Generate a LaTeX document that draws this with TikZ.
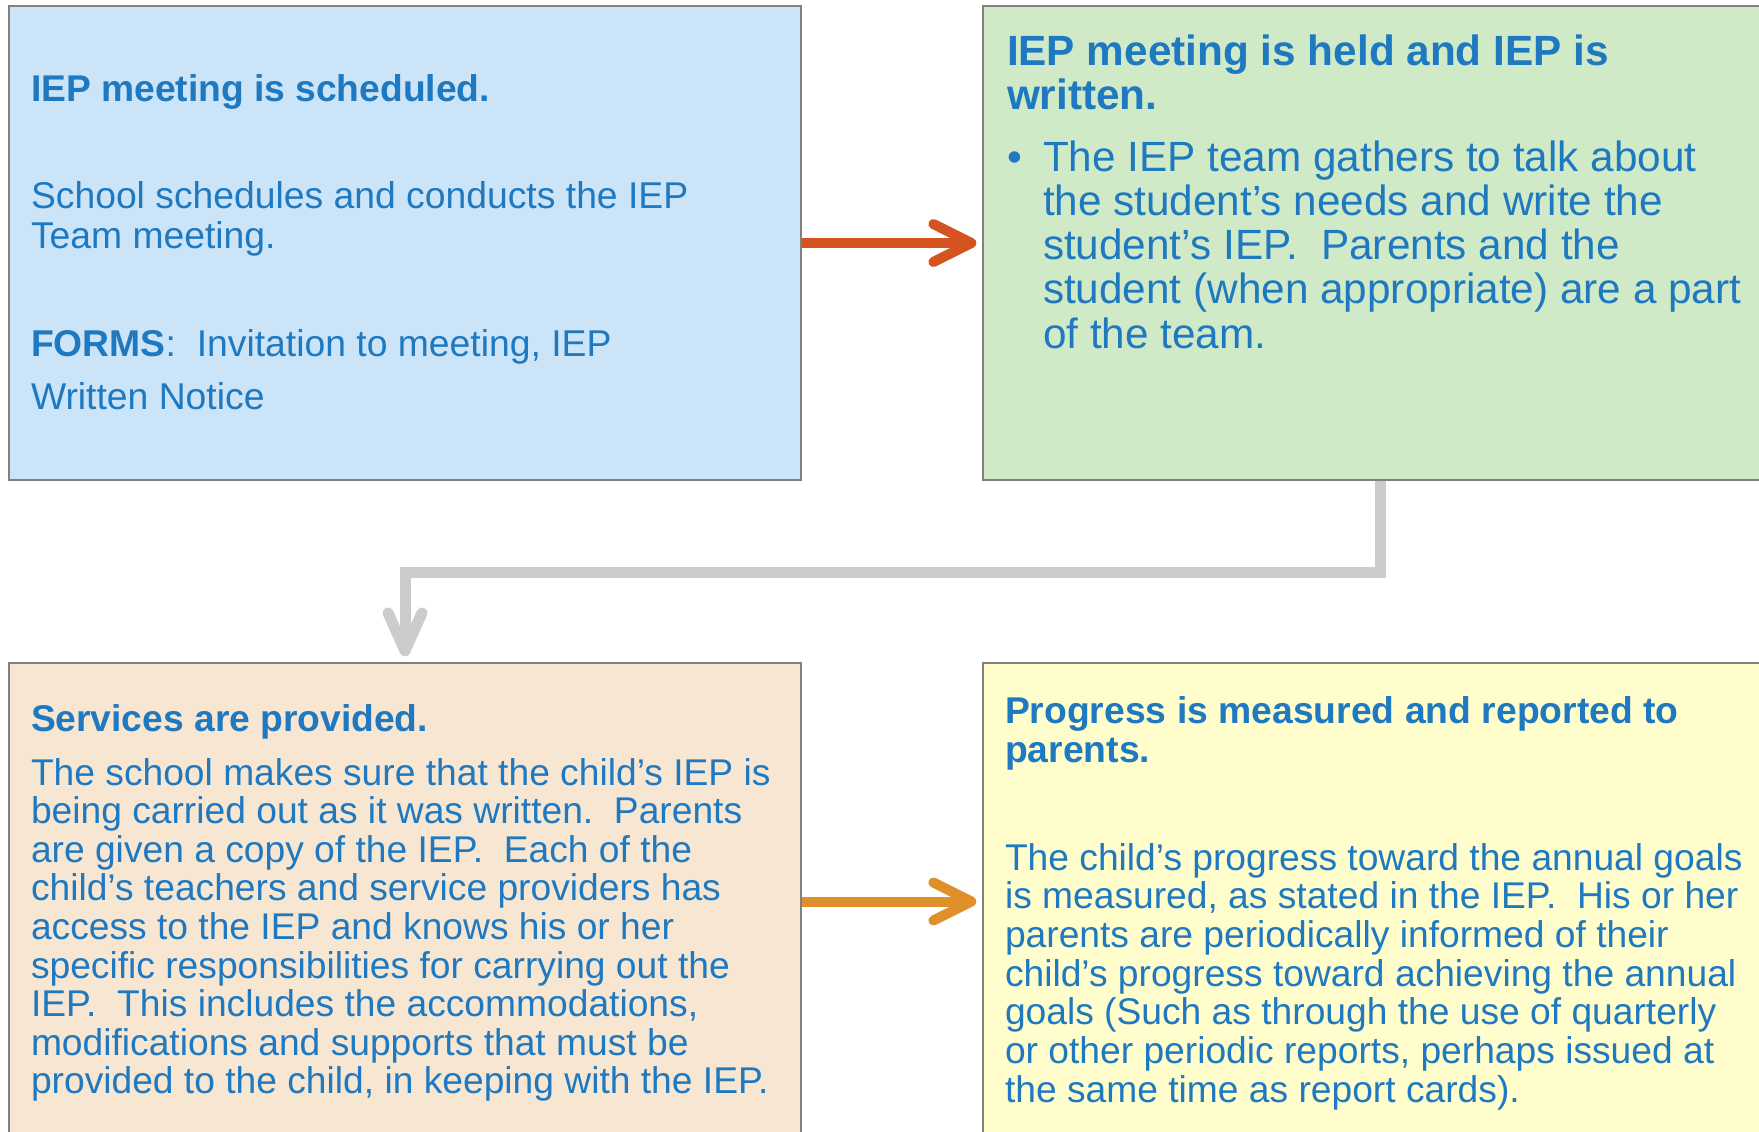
\documentclass[tikz,border=0pt]{standalone}
\usepackage{fontspec}
\setmainfont{Liberation Sans}
\usetikzlibrary{arrows.meta}
\definecolor{iepblue}{RGB}{30,121,193}
\definecolor{fillblue}{RGB}{204,228,247}
\definecolor{fillgreen}{RGB}{208,234,199}
\definecolor{fillpeach}{RGB}{247,230,210}
\definecolor{fillyellow}{RGB}{255,253,203}
\definecolor{boxline}{RGB}{128,128,128}
\definecolor{arrowred}{RGB}{212,83,31}
\definecolor{arroworange}{RGB}{224,144,42}
\definecolor{arrowgray}{RGB}{204,204,204}
\newcommand{\blk}[3]{\parbox[t]{900pt}{\fontsize{#1}{#2}\selectfont #3}}
\begin{document}
\begin{tikzpicture}[x=1pt,y=-1pt,
  stepbox/.style={draw=boxline, line width=1.3pt, rectangle, inner sep=0pt},
  txt/.style={anchor=base west, inner sep=0pt, outer sep=0pt, text=iepblue},
  ttl/.style={txt, font=\bfseries},
  flowarrow/.style={line width=10pt, -{Straight Barb[length=38pt, width=38pt, round]}, shorten >=6pt},
  grayarrow/.style={line width=11pt, draw=arrowgray, -{Straight Barb[length=38pt, width=34pt, round]}, shorten >=6pt}]
\useasboundingbox (0,0) rectangle (1759,1132);
\clip (0,0) rectangle (1759,1132);
\fill[white] (0,0) rectangle (1759,1132);

% boxes
\node[stepbox, fill=fillblue,   minimum width=792pt, minimum height=474pt] (b1) at (405,243) {};
\node[stepbox, fill=fillgreen,  minimum width=794pt, minimum height=474pt] (b2) at (1380,243) {};
\node[stepbox, fill=fillpeach,  minimum width=792pt, minimum height=477pt] (b3) at (405,901.5) {};
\node[stepbox, fill=fillyellow, minimum width=794pt, minimum height=477pt] (b4) at (1380,901.5) {};

% box 1 text
\node[ttl] (t1) at (31,101) {\blk{37.2pt}{40pt}{IEP meeting is scheduled.}};
\node[txt] (t1a) at (31,208) {\blk{37.3pt}{40pt}{School schedules and conducts the IEP\\Team meeting.}};
\node[txt] (t1b) at (31,356) {\blk{37.3pt}{53pt}{\textbf{FORMS}:\ \ Invitation to meeting, IEP\\Written Notice}};

% box 2 text
\node[ttl] (t2) at (1007,66) {\blk{42.3pt}{44pt}{IEP meeting is held and IEP is\\written.}};
\node[txt] (t2bul) at (1007,171) {\fontsize{42.3pt}{44pt}\selectfont •};
\node[txt] (t2a) at (1043,171) {\blk{42.3pt}{44.3pt}{The IEP team gathers to talk about\\the student’s needs and write the\\student’s IEP.\ \ Parents and the\\student (when appropriate) are a part\\of the team.}};

% box 3 text
\node[ttl] (t3) at (31,731) {\blk{37.2pt}{40pt}{Services are provided.}};
\node[txt] (t3a) at (31,785) {\blk{37.2pt}{38.6pt}{The school makes sure that the child’s IEP is\\being carried out as it was written.\ \ Parents\\are given a copy of the IEP.\ \ Each of the\\child’s teachers and service providers has\\access to the IEP and knows his or her\\specific responsibilities for carrying out the\\IEP.\ \ This includes the accommodations,\\modifications and supports that must be\\provided to the child, in keeping with the IEP.}};

% box 4 text
\node[ttl] (t4) at (1005,723) {\blk{37.3pt}{39pt}{Progress is measured and reported to\\parents.}};
\node[txt] (t4a) at (1005,870) {\blk{37.2pt}{38.7pt}{The child’s progress toward the annual goals\\is measured, as stated in the IEP.\ \ His or her\\parents are periodically informed of their\\child’s progress toward achieving the annual\\goals (Such as through the use of quarterly\\or other periodic reports, perhaps issued at\\the same time as report cards).}};

% connectors
\draw[flowarrow, draw=arrowred] (b1) -- (b2);
\draw[flowarrow, draw=arroworange] (b3) -- (b4);
\coordinate (bend) at (405,572);
\draw[grayarrow] (b2.south) |- (bend) -- (b3.north);
\end{tikzpicture}
\end{document}
